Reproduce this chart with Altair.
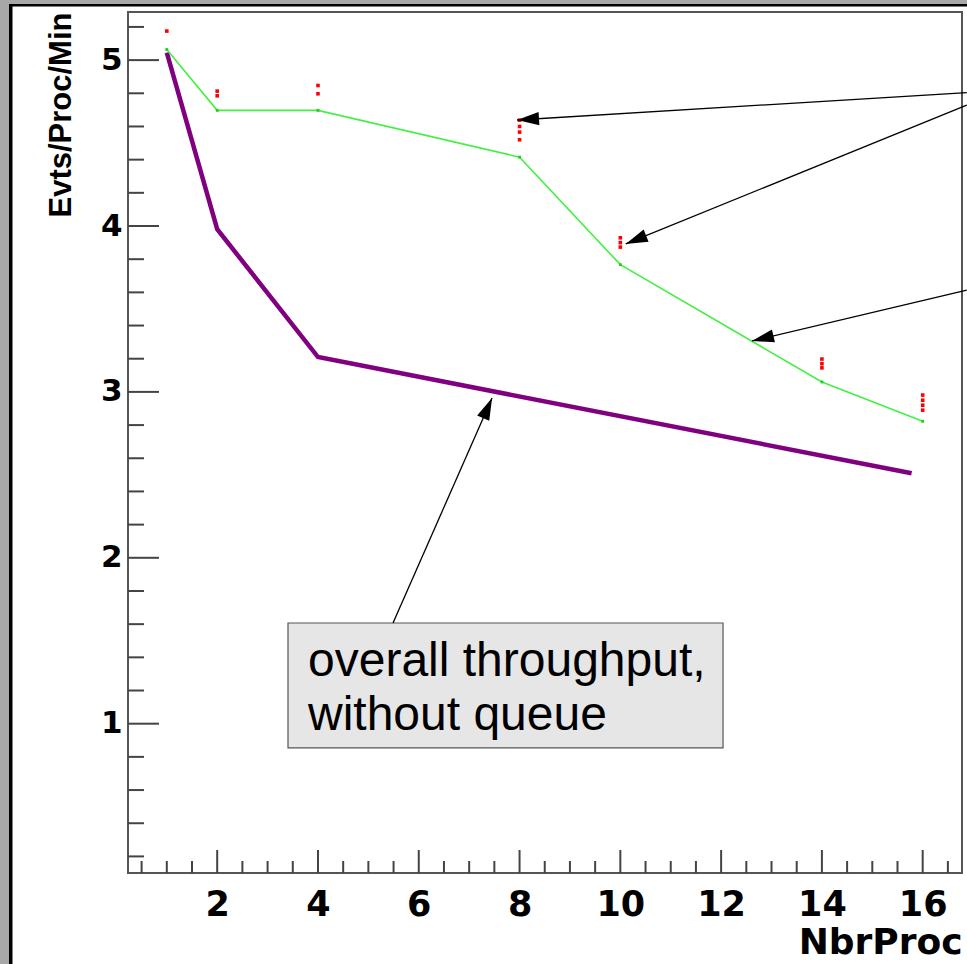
import math
import altair as alt
import pandas as pd

# ---------------- data ----------------
green_x = [1, 2, 4, 8, 10, 14, 16]
green_y = [5.064, 4.697, 4.697, 4.415, 3.767, 3.06, 2.823]

red_x = [1, 2, 2, 4, 4, 8, 8, 8, 8, 10, 10, 10, 14, 14, 14, 16, 16, 16, 16]
red_y = [5.175, 4.813, 4.785, 4.847, 4.797, 4.638, 4.60, 4.566, 4.52,
         3.929, 3.90, 3.873, 3.198, 3.17, 3.145, 2.981, 2.95, 2.92, 2.89]

purple_x = [1, 2, 4, 15.78]
purple_y = [5.045, 3.981, 3.21, 2.51]

arrow_x_start = [16.875, 16.875, 16.875, 5.489]
arrow_y_start = [4.804, 4.729, 3.614, 1.607]
arrow_x_end = [7.95, 10.107, 12.613, 7.454]
arrow_y_end = [4.639, 3.892, 3.307, 2.963]

box_x = [3.405]
box_x2 = [12.038]
box_y = [1.607]
box_y2 = [0.854]
box_text_x = [3.802]
box_text_y = [1.288]
box_text = ["overall throughput,\nwithout queue"]

x_major = [2, 4, 6, 8, 10, 12, 14, 16]
x_minor = [0.5, 1, 1.5, 2.5, 3, 3.5, 4.5, 5, 5.5, 6.5, 7, 7.5, 8.5, 9, 9.5,
           10.5, 11, 11.5, 12.5, 13, 13.5, 14.5, 15, 15.5, 16.5]
y_major = [1, 2, 3, 4, 5]
y_minor = [0.2, 0.4, 0.6, 0.8, 1.2, 1.4, 1.6, 1.8, 2.2, 2.4, 2.6, 2.8,
           3.2, 3.4, 3.6, 3.8, 4.2, 4.4, 4.6, 4.8, 5.2]

x_title = "NbrProc"
y_title = "Evts/Proc/Min"

# ---------------- layout ----------------
W, H = 834, 861
XDOM = [0.23, 16.78]
YDOM = [0.1, 5.29]
xs = alt.Scale(domain=XDOM, nice=False, zero=False)
ys = alt.Scale(domain=YDOM, nice=False, zero=False)

xa = alt.Axis(
    values=x_major, ticks=False, domain=False, grid=False, format="d",
    labelFont="DejaVu Sans", labelFontWeight="bold", labelFontSize=35,
    labelColor="black", labelPadding=14, labelFlush=False,
    title=x_title, titleFont="DejaVu Sans", titleFontWeight="bold",
    titleFontSize=36, titleColor="black", titleAlign="right",
    titleAnchor="end", titleBaseline="alphabetic", titleX=W, titleY=80)
ya = alt.Axis(
    values=y_major, ticks=False, domain=False, grid=False, format="d",
    labelFont="DejaVu Sans", labelFontWeight="bold", labelFontSize=31,
    labelColor="black", labelPadding=6, labelFlush=False,
    title=y_title, titleFont="Liberation Sans", titleFontWeight="bold",
    titleFontSize=31, titleColor="black", titleAngle=270,
    titleAlign="right", titleBaseline="alphabetic", titleX=-58, titleY=0)

px_x = W / (XDOM[1] - XDOM[0])
px_y = H / (YDOM[1] - YDOM[0])

green_df = pd.DataFrame({"x": green_x, "y": green_y})
red_df = pd.DataFrame({"x": red_x, "y": red_y})
purple_df = pd.DataFrame({"x": purple_x, "y": purple_y})

angles = []
for xs0, ys0, xe, ye in zip(arrow_x_start, arrow_y_start, arrow_x_end, arrow_y_end):
    dx = (xe - xs0) * px_x
    dy = -(ye - ys0) * px_y
    angles.append(math.degrees(math.atan2(dx, -dy)) % 360)
arrow_df = pd.DataFrame({"x": arrow_x_start, "y": arrow_y_start,
                         "x2": arrow_x_end, "y2": arrow_y_end, "angle": angles})

one = pd.DataFrame({"a": [0]})


def strip(x1, x2, y1, y2, color):
    return alt.Chart(one).mark_rect(color=color).encode(
        x=alt.value(x1), x2=alt.value(x2), y=alt.value(y1), y2=alt.value(y2))


strips = [
    strip(-128, -119, -12, 952, "#a8a8a8"),
    strip(-128, 839, -12, -8, "#a8a8a8"),
    strip(-119, -115.5, -8, 952, "#000000"),
    strip(-119, 839, -8, -5.5, "#000000"),
]

X = lambda f: alt.X(f, scale=xs, axis=xa)
Y = lambda f: alt.Y(f, scale=ys, axis=ya)

tick_color = "#444444"
ymaj = alt.Chart(pd.DataFrame({"v": y_major})).mark_rule(color=tick_color, strokeWidth=2).encode(
    y=Y("v:Q"), x=alt.value(0), x2=alt.value(31))
ymin = alt.Chart(pd.DataFrame({"v": y_minor})).mark_rule(color=tick_color, strokeWidth=2).encode(
    y=Y("v:Q"), x=alt.value(0), x2=alt.value(16))
xmaj = alt.Chart(pd.DataFrame({"v": x_major})).mark_rule(color=tick_color, strokeWidth=2).encode(
    x=X("v:Q"), y=alt.value(H), y2=alt.value(H - 23))
xmin = alt.Chart(pd.DataFrame({"v": x_minor})).mark_rule(color=tick_color, strokeWidth=2).encode(
    x=X("v:Q"), y=alt.value(H), y2=alt.value(H - 12))

box = alt.Chart(pd.DataFrame({"x": box_x, "x2": box_x2, "y": box_y, "y2": box_y2})).mark_rect(
    fill="#e6e6e6", stroke="#555555", strokeWidth=1.2).encode(
    x=X("x:Q"), x2="x2:Q", y=Y("y:Q"), y2="y2:Q")

box_txt = alt.Chart(pd.DataFrame({"x": box_text_x, "y": box_text_y, "t": box_text})).mark_text(
    font="Liberation Sans", fontSize=48, align="left", baseline="alphabetic",
    lineBreak="\n", lineHeight=54, color="black").encode(
    x=X("x:Q"), y=Y("y:Q"), text="t:N")

purple = alt.Chart(purple_df).mark_line(color="#800080", strokeWidth=4.5).encode(
    x=X("x:Q"), y=Y("y:Q"))

green = alt.Chart(green_df).mark_line(color="#44f044", strokeWidth=1.6).encode(
    x=X("x:Q"), y=Y("y:Q"))

green_pts = alt.Chart(green_df).mark_square(color="#22cc22", size=8, opacity=1).encode(
    x=X("x:Q"), y=Y("y:Q"))

red_pts = alt.Chart(red_df).mark_square(color="#ff0000", size=13, opacity=1).encode(
    x=X("x:Q"), y=Y("y:Q"))

arrow_lines = alt.Chart(arrow_df).mark_rule(color="black", strokeWidth=1.3).encode(
    x=X("x:Q"), x2="x2:Q", y=Y("y:Q"), y2="y2:Q")

head_path = "M0,0L-0.3,1L0.3,1Z"
arrow_heads = alt.Chart(arrow_df).mark_point(
    shape=head_path, filled=True, color="black", opacity=1, size=1936, strokeWidth=0).encode(
    x=X("x2:Q"), y=Y("y2:Q"), angle=alt.Angle("angle:Q", scale=None))

chart = alt.layer(
    *strips, ymin, ymaj, xmin, xmaj, box, box_txt, purple, green, green_pts,
    red_pts, arrow_lines, arrow_heads
).properties(
    width=W, height=H,
    padding={"left": 128, "top": 12, "right": 5, "bottom": 91},
    autosize=alt.AutoSizeParams(type="none"),
    background="white",
).configure_view(stroke="#555555", strokeWidth=2)

chart.save("out.html", embed_options={"renderer": "svg", "actions": False})
